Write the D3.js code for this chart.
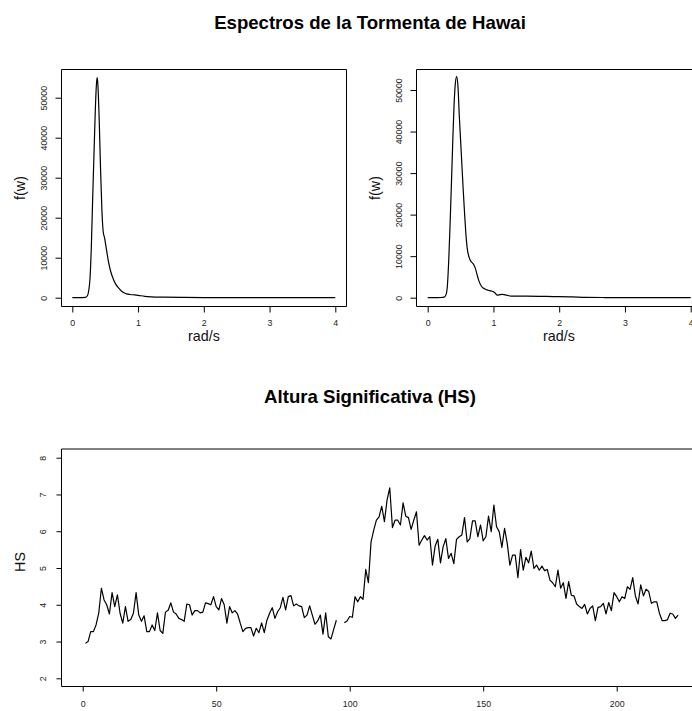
<!DOCTYPE html>
<html><head><meta charset="utf-8">
<script src="https://cdn.jsdelivr.net/npm/d3@7"></script>
<style>
body{margin:0;background:#fff}
svg{display:block;font-family:"Liberation Sans",Arial,Helvetica,sans-serif}
</style>
</head><body>
<svg id="c" width="692" height="711"></svg>
<script>
// ---------- DATA ----------
const mainTitle = "Espectros de la Tormenta de Hawai";
const hsTitle = "Altura Significativa (HS)";
const specXLabel = "rad/s";
const specYLabel = "f(w)";
const hsYLabel = "HS";

const specXTicks = [0, 1, 2, 3, 4];
const specYTicks = [0, 10000, 20000, 30000, 40000, 50000];
const hsXTicks = [0, 50, 100, 150, 200];
const hsYTicks = [2, 3, 4, 5, 6, 7, 8];

// Spectrum 1 (left)
const leftFreq = [0, 0.1, 0.2, 0.23, 0.25, 0.27, 0.29, 0.31, 0.33, 0.35, 0.37, 0.38, 0.39, 0.41, 0.43, 0.45, 0.47, 0.49, 0.52, 0.55, 0.58, 0.62, 0.66, 0.70, 0.75, 0.80, 0.88, 0.95, 1.0, 1.1, 1.2, 1.4, 1.7, 2.0, 2.5, 3.0, 3.5, 4.0];
const leftSpec = [0, 0, 100, 500, 1800, 5000, 13000, 25000, 36000, 47000, 54000, 55000, 53000, 44000, 32000, 22000, 16500, 15000, 12000, 9000, 6800, 4800, 3400, 2500, 1600, 1100, 800, 700, 600, 350, 220, 130, 70, 40, 20, 10, 5, 0];

// Spectrum 2 (right)
const rightFreq = [0, 0.1, 0.2, 0.25, 0.28, 0.3, 0.32, 0.34, 0.36, 0.38, 0.40, 0.42, 0.44, 0.46, 0.48, 0.50, 0.52, 0.54, 0.56, 0.58, 0.60, 0.63, 0.66, 0.69, 0.72, 0.75, 0.78, 0.82, 0.87, 0.92, 0.97, 1.02, 1.06, 1.10, 1.14, 1.2, 1.27, 1.5, 1.8, 2.0, 2.2, 2.4, 2.7, 3.0, 3.5, 4.0];
const rightSpec = [0, 0, 50, 150, 800, 3000, 9000, 17500, 27000, 37000, 46000, 51500, 53200, 51000, 44000, 38000, 32000, 26000, 20500, 15500, 12000, 9700, 8700, 8200, 7300, 5600, 4000, 2700, 2100, 1800, 1600, 1200, 600, 750, 800, 600, 400, 380, 300, 250, 180, 80, 40, 20, 10, 0];

// Significant height series, t = 1..223 (96, 97 missing)
const hsValues = [
 2.95,3.0,3.27,3.27,3.45,3.77,4.45,4.13,4.0,3.75,
 4.33,3.95,4.27,3.77,3.5,3.95,3.55,3.6,3.77,4.33,
 3.72,3.55,3.7,3.27,3.27,3.45,3.3,3.78,3.3,3.22,
 3.8,3.85,4.05,3.8,3.75,3.63,3.6,3.55,4.02,4.0,
 3.72,3.84,3.84,3.78,3.8,4.05,4.03,4.0,4.22,3.95,
 3.86,4.17,4.0,3.5,3.95,3.78,3.84,3.75,3.5,3.27,
 3.36,3.38,3.38,3.15,3.36,3.24,3.51,3.24,3.58,3.77,
 3.92,3.63,3.81,3.92,4.2,3.86,4.22,4.25,3.97,4.02,
 3.97,3.95,3.65,3.72,3.97,3.72,3.47,3.56,3.72,3.2,
 3.78,3.13,3.07,3.33,3.58,null,null,3.51,3.56,3.68,
 3.66,4.22,4.08,4.22,4.15,4.96,4.6,5.71,6.03,6.3,
 6.39,6.68,6.26,6.85,7.18,6.1,6.3,6.3,6.17,6.77,
 6.41,6.37,6.05,6.3,6.53,5.62,5.76,5.88,5.76,5.85,
 5.08,5.6,5.78,5.14,5.58,5.8,5.26,5.4,5.12,5.78,
 5.85,5.9,6.37,5.71,5.8,6.28,6.28,5.85,6.17,5.74,
 5.85,6.41,5.99,6.71,6.12,5.99,5.56,6.08,5.67,5.08,
 5.35,5.35,4.74,5.5,4.94,5.29,5.14,5.46,4.99,5.08,
 4.94,5.05,4.93,4.96,4.67,4.6,4.49,4.94,4.45,4.6,
 4.17,4.63,4.26,4.24,4.02,3.95,3.9,4.01,3.75,3.9,
 3.97,3.57,3.93,3.95,4.04,3.75,4.06,3.84,4.33,4.22,
 4.08,4.22,4.17,4.49,4.42,4.74,4.24,4.02,4.54,4.24,
 4.42,4.36,4.04,4.08,4.08,3.77,3.57,3.57,3.59,3.77,
 3.75,3.63,3.72
];
const hsTime = hsValues.map((v, i) => i + 1);

// ---------- DRAWING ----------
const svg = d3.select("#c");
svg.append("rect").attr("width", 692).attr("height", 711).attr("fill", "#fff");

const tickFont = 8.8, labFont = 14.3, titleFont = 18.6;

function drawPanel(p) {
  const g = svg.append("g");
  // box
  g.append("path")
    .attr("d", `M${p.box[0]},${p.box[1]}H${p.box[2]}V${p.box[3]}H${p.box[0]}Z`)
    .attr("fill", "none").attr("stroke", "#000").attr("stroke-width", 1);

  // x axis
  const xa = g.append("g").attr("transform", `translate(0,${p.box[3]})`)
    .call(d3.axisBottom(p.x).tickValues(p.xTicks).tickSize(p.tick).tickFormat(d3.format("d")));
  xa.select(".domain").remove();
  xa.selectAll("line").attr("stroke", "#000");
  xa.selectAll("text").attr("y", p.xLabY).attr("dy", 0)
    .attr("font-size", tickFont).attr("font-family", null).attr("fill", "#222");

  // y axis
  const ya = g.append("g").attr("transform", `translate(${p.box[0]},0)`)
    .call(d3.axisLeft(p.y).tickValues(p.yTicks).tickSize(p.tick).tickFormat(d3.format("d")));
  ya.select(".domain").remove();
  ya.selectAll("line").attr("stroke", "#000");
  ya.selectAll("text").attr("x", 0).attr("dy", 0)
    .attr("transform", `translate(${-p.yLabOff},0) rotate(-90)`)
    .attr("text-anchor", "middle")
    .attr("font-size", tickFont).attr("font-family", null).attr("fill", "#222");

  ya.attr("font-family", null); xa.attr("font-family", null);

  // line
  const line = d3.line()
    .defined(d => d[1] != null)
    .x(d => p.x(d[0])).y(d => p.y(d[1]))
    .curve(p.curve);
  g.append("path").datum(p.data)
    .attr("d", line).attr("fill", "none")
    .attr("stroke", "#000").attr("stroke-width", 1.2).attr("stroke-linejoin", "round");

  // axis labels
  if (p.xLabel) {
    g.append("text").attr("x", (p.box[0] + p.box[2]) / 2).attr("y", p.xTitleY)
      .attr("text-anchor", "middle").attr("font-size", labFont).attr("fill", "#111").text(p.xLabel);
  }
  g.append("text")
    .attr("transform", `translate(${p.yTitleX},${p.yTitleY}) rotate(-90)`)
    .attr("text-anchor", "middle").attr("font-size", labFont).attr("fill", "#111").text(p.yLabel);
}

// Left spectrum
drawPanel({
  box: [61.5, 69.5, 346.5, 306.5],
  x: d3.scaleLinear().domain([0, 4]).range([72.3, 335.3]),
  y: d3.scaleLinear().domain([0, 50000]).range([297.7, 97.7]),
  xTicks: specXTicks, yTicks: specYTicks, tick: 6,
  xLabY: 19.5, yLabOff: 14.5,
  data: leftFreq.map((w, i) => [w, leftSpec[i]]),
  curve: d3.curveMonotoneX,
  xLabel: specXLabel, xTitleY: 341, yLabel: specYLabel, yTitleX: 25, yTitleY: 188
});

// Right spectrum (plot extends beyond the canvas on the right)
drawPanel({
  box: [416.5, 69.5, 701.5, 306.5],
  x: d3.scaleLinear().domain([0, 4]).range([427.7, 690.7]),
  y: d3.scaleLinear().domain([0, 50000]).range([297.7, 90]),
  xTicks: specXTicks, yTicks: specYTicks, tick: 6,
  xLabY: 19.5, yLabOff: 14.5,
  data: rightFreq.map((w, i) => [w, rightSpec[i]]),
  curve: d3.curveMonotoneX,
  xLabel: specXLabel, xTitleY: 341, yLabel: specYLabel, yTitleX: 380, yTitleY: 188
});

// HS time series
drawPanel({
  box: [61.5, 449, 701.5, 686.5],
  x: d3.scaleLinear().domain([0, 200]).range([82.7, 616.7]),
  y: d3.scaleLinear().domain([2, 8]).range([678.3, 457.7]),
  xTicks: hsXTicks, yTicks: hsYTicks, tick: 5,
  xLabY: 20, yLabOff: 15.5,
  data: hsTime.map((t, i) => [t, hsValues[i]]),
  curve: d3.curveLinear,
  xLabel: null, yLabel: hsYLabel, yTitleX: 25, yTitleY: 562
});

// Titles
svg.append("text").attr("x", 370).attr("y", 29).attr("text-anchor", "middle")
  .attr("font-size", titleFont).attr("font-weight", "bold").attr("fill", "#000").text(mainTitle);
svg.append("text").attr("x", 370).attr("y", 403).attr("text-anchor", "middle")
  .attr("font-size", titleFont).attr("font-weight", "bold").attr("fill", "#000").text(hsTitle);
</script>
</body></html>
